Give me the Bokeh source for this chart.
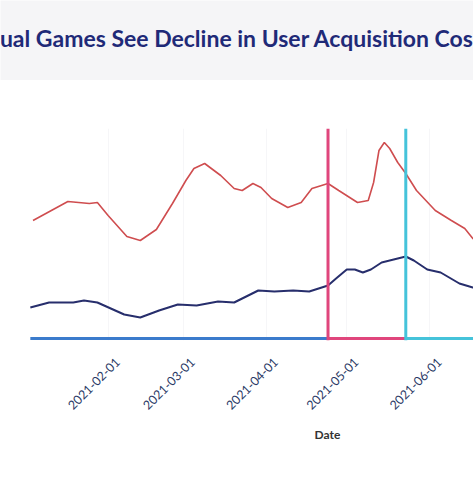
import math
from datetime import datetime, timedelta
import pandas as pd
from bokeh.plotting import figure
from bokeh.layouts import column
from bokeh.models import (Span, Title, DatetimeTickFormatter, FixedTicker, Range1d,
                          DatetimeAxis, Grid)
from bokeh.core.properties import value
from bokeh.embed import file_html
from bokeh.resources import INLINE

title_text = "ual Games See Decline in User Acquisition Cos"

red_dates = ["2021-01-04", "2021-01-17", "2021-01-25", "2021-01-28", "2021-02-01",
             "2021-02-08", "2021-02-13", "2021-02-19", "2021-02-25", "2021-03-02",
             "2021-03-05", "2021-03-09", "2021-03-15", "2021-03-20", "2021-03-23",
             "2021-03-27", "2021-03-30", "2021-04-03", "2021-04-09", "2021-04-14",
             "2021-04-18", "2021-04-24", "2021-04-28", "2021-05-05", "2021-05-09",
             "2021-05-11", "2021-05-13", "2021-05-15", "2021-05-17", "2021-05-20",
             "2021-05-23", "2021-05-27", "2021-06-03", "2021-06-09", "2021-06-14",
             "2021-06-17", "2021-06-22"]
red_values = [1.18, 1.37, 1.35, 1.36, 1.23,
              1.02, 0.98, 1.09, 1.35, 1.58,
              1.70, 1.75, 1.63, 1.50, 1.48,
              1.55, 1.51, 1.40, 1.31, 1.36,
              1.50, 1.55, 1.48, 1.36, 1.38,
              1.56, 1.88, 1.96, 1.90, 1.76,
              1.65, 1.48, 1.28, 1.18, 1.10,
              1.00, 0.88]

navy_dates = ["2021-01-03", "2021-01-10", "2021-01-19", "2021-01-23", "2021-01-28",
              "2021-02-07", "2021-02-13", "2021-02-20", "2021-02-27", "2021-03-06",
              "2021-03-14", "2021-03-20", "2021-03-29", "2021-04-04", "2021-04-11",
              "2021-04-17", "2021-04-24", "2021-04-27", "2021-05-01", "2021-05-04",
              "2021-05-07", "2021-05-10", "2021-05-14", "2021-05-23", "2021-05-26",
              "2021-05-31", "2021-06-05", "2021-06-12", "2021-06-17", "2021-06-22"]
navy_values = [0.31, 0.36, 0.36, 0.38, 0.36,
               0.24, 0.21, 0.28, 0.34, 0.33,
               0.37, 0.36, 0.48, 0.47, 0.48,
               0.47, 0.53, 0.60, 0.69, 0.69,
               0.66, 0.69, 0.76, 0.82, 0.78,
               0.69, 0.66, 0.55, 0.51, 0.48]

period_starts = ["2021-01-03", "2021-04-24", "2021-05-23"]
period_ends = ["2021-04-24", "2021-05-23", "2021-06-30"]
period_colors = ["#3b7bcc", "#e0467c", "#45c3da"]

marker_dates = ["2021-04-24", "2021-05-23"]
marker_colors = ["#e0467c", "#45c3da"]

tick_dates = ["2021-02-01", "2021-03-01", "2021-04-01", "2021-05-01", "2021-06-01", "2021-07-01"]

x_label = "Date"


def d(s):
    return datetime.strptime(s, "%Y-%m-%d")


def ms(s):
    return pd.Timestamp(s).value // 10**6


W = 473
header = figure(width=W, height=80, x_range=(0, W), y_range=(0, 80),
                output_backend="svg", toolbar_location=None,
                min_border=0, outline_line_color=None,
                background_fill_color="#f5f5f7", border_fill_color="#f5f5f7")
header.axis.visible = False
header.grid.visible = False
header.text(x=[236.5], y=[43], text=[title_text], text_align="center",
            text_baseline="middle", text_font=value("Lato"),
            text_font_style="bold", text_font_size="23px", text_color="#1f2a78")

x_start = datetime(2020, 12, 22, 21)
x_end = datetime(2021, 6, 17, 6)
label_shift = timedelta(days=3.4)

p = figure(width=W, height=397, x_axis_location=None, y_axis_location=None,
           x_range=Range1d(x_start, x_end), y_range=Range1d(-0.02, 2.10),
           output_backend="svg", toolbar_location=None,
           min_border_left=0, min_border_right=0, min_border_top=48,
           min_border_bottom=137, outline_line_color=None,
           background_fill_color="white", border_fill_color="white")
p.grid.visible = False
p.extra_x_ranges = {"lab": Range1d(x_start - label_shift, x_end - label_shift)}

tick_ms = [ms(s) for s in tick_dates]
p.add_layout(Grid(dimension=0, ticker=FixedTicker(ticks=tick_ms),
                  grid_line_color="#f6f6f8"))

xa = DatetimeAxis(x_range_name="lab", ticker=FixedTicker(ticks=tick_ms),
                  formatter=DatetimeTickFormatter(months="%Y-%m-%d", days="%Y-%m-%d",
                                                  years="%Y-%m-%d"))
xa.major_label_orientation = math.pi / 4
xa.axis_line_color = None
xa.major_tick_line_color = None
xa.minor_tick_line_color = None
xa.major_label_standoff = 13
xa.major_label_text_font = "Lato"
xa.major_label_text_font_size = "12.5px"
xa.major_label_text_color = "#2b3a66"
p.add_layout(xa, "below")

p.add_layout(Title(text=x_label, align="left", offset=314, standoff=15,
                   text_font="Lato", text_font_style="bold",
                   text_font_size="12px", text_color="#333333"), "below")

p.line([d(s) for s in red_dates], red_values, line_color="#cf4d4f", line_width=1.6)
p.line([d(s) for s in navy_dates], navy_values, line_color="#272e6c", line_width=2)

p.segment(x0=[d(s) for s in period_starts], y0=[0] * len(period_starts),
          x1=[d(s) for s in period_ends], y1=[0] * len(period_ends),
          line_color=period_colors, line_width=3)

for md, mc in zip(marker_dates, marker_colors):
    p.add_layout(Span(location=d(md), dimension="height", line_color=mc, line_width=3))

layout = column(header, p, spacing=0)
open("out.html", "w").write(file_html(layout, INLINE))
